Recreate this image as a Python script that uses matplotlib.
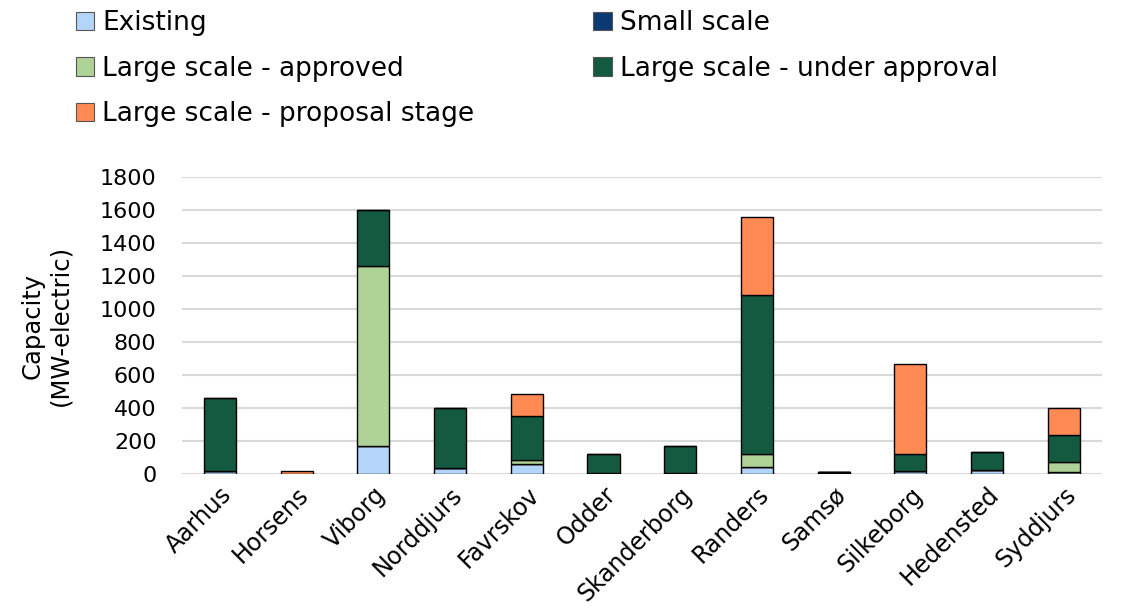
import numpy as np
import matplotlib
matplotlib.use("Agg")
import matplotlib.pyplot as plt

plt.rcParams['font.family'] = ['DejaVu Sans']

kommuner = ["Aarhus", "Horsens", "Viborg", "Norddjurs", "Favrskov", "Odder",
            "Skanderborg", "Randers", "Samsø", "Silkeborg", "Hedensted", "Syddjurs"]

# capacity, MW-electric
existing       = [20, 0, 170, 35, 60, 5, 5, 45, 5, 20, 25, 10]
small_scale    = [0, 0, 0, 0, 0, 0, 0, 0, 5, 0, 0, 0]
large_approved = [0, 0, 1090, 0, 25, 0, 0, 75, 0, 0, 0, 65]
large_under    = [440, 0, 340, 365, 265, 115, 165, 965, 0, 100, 110, 165]
large_proposal = [0, 22, 0, 0, 135, 0, 0, 475, 0, 545, 0, 160]

series = [
    ("Existing", existing, "#B4D5FA"),
    ("Small scale", small_scale, "#0B3A73"),
    ("Large scale - approved", large_approved, "#AFD296"),
    ("Large scale - under approval", large_under, "#135A41"),
    ("Large scale - proposal stage", large_proposal, "#FF8A53"),
]

fig = plt.figure(figsize=(11.35, 6.11), dpi=100)
ax = fig.add_axes([0.160, 0.224, 0.811, 0.486])

x = np.arange(len(kommuner))
bottom = np.zeros(len(kommuner))
handles = {}
for name, vals, col in series:
    vals = np.array(vals, dtype=float)
    b = ax.bar(x, vals, 0.42, bottom=bottom, color=col, edgecolor="black",
               linewidth=1.0, zorder=3, label=name)
    handles[name] = b
    bottom += vals

ax.set_xlim(-0.5, len(kommuner) - 0.5)
ax.set_ylim(0, 1800)
ax.set_yticks(range(0, 1801, 200))
ax.yaxis.grid(True, color="#D9D9D9", linewidth=1.5, zorder=0)
for s in ax.spines.values():
    s.set_visible(False)
ax.tick_params(axis="y", length=0, labelsize=16, colors="black", pad=18)
ax.tick_params(axis="x", length=0, labelsize=17, colors="black", pad=6)
ax.set_xticks(x)
ax.set_xticklabels(kommuner, rotation=45, ha="right", rotation_mode="anchor")
ax.set_ylabel("Capacity\n(MW-electric)", fontsize=17.5, linespacing=1.2, labelpad=20)

order = ["Existing", "Large scale - approved", "Large scale - proposal stage",
         "Small scale", "Large scale - under approval"]
leg = fig.legend([handles[n] for n in order], order, ncol=2, loc="upper left",
                 bbox_to_anchor=(0.046, 1.022), frameon=False, fontsize=19,
                 handlelength=0.7, handleheight=0.7, handletextpad=0.3,
                 columnspacing=4.5, labelspacing=0.74)
for h in leg.legend_handles:
    h.set_edgecolor("#555555")
    h.set_linewidth(0.8)

fig.savefig("out.png", dpi=100)
